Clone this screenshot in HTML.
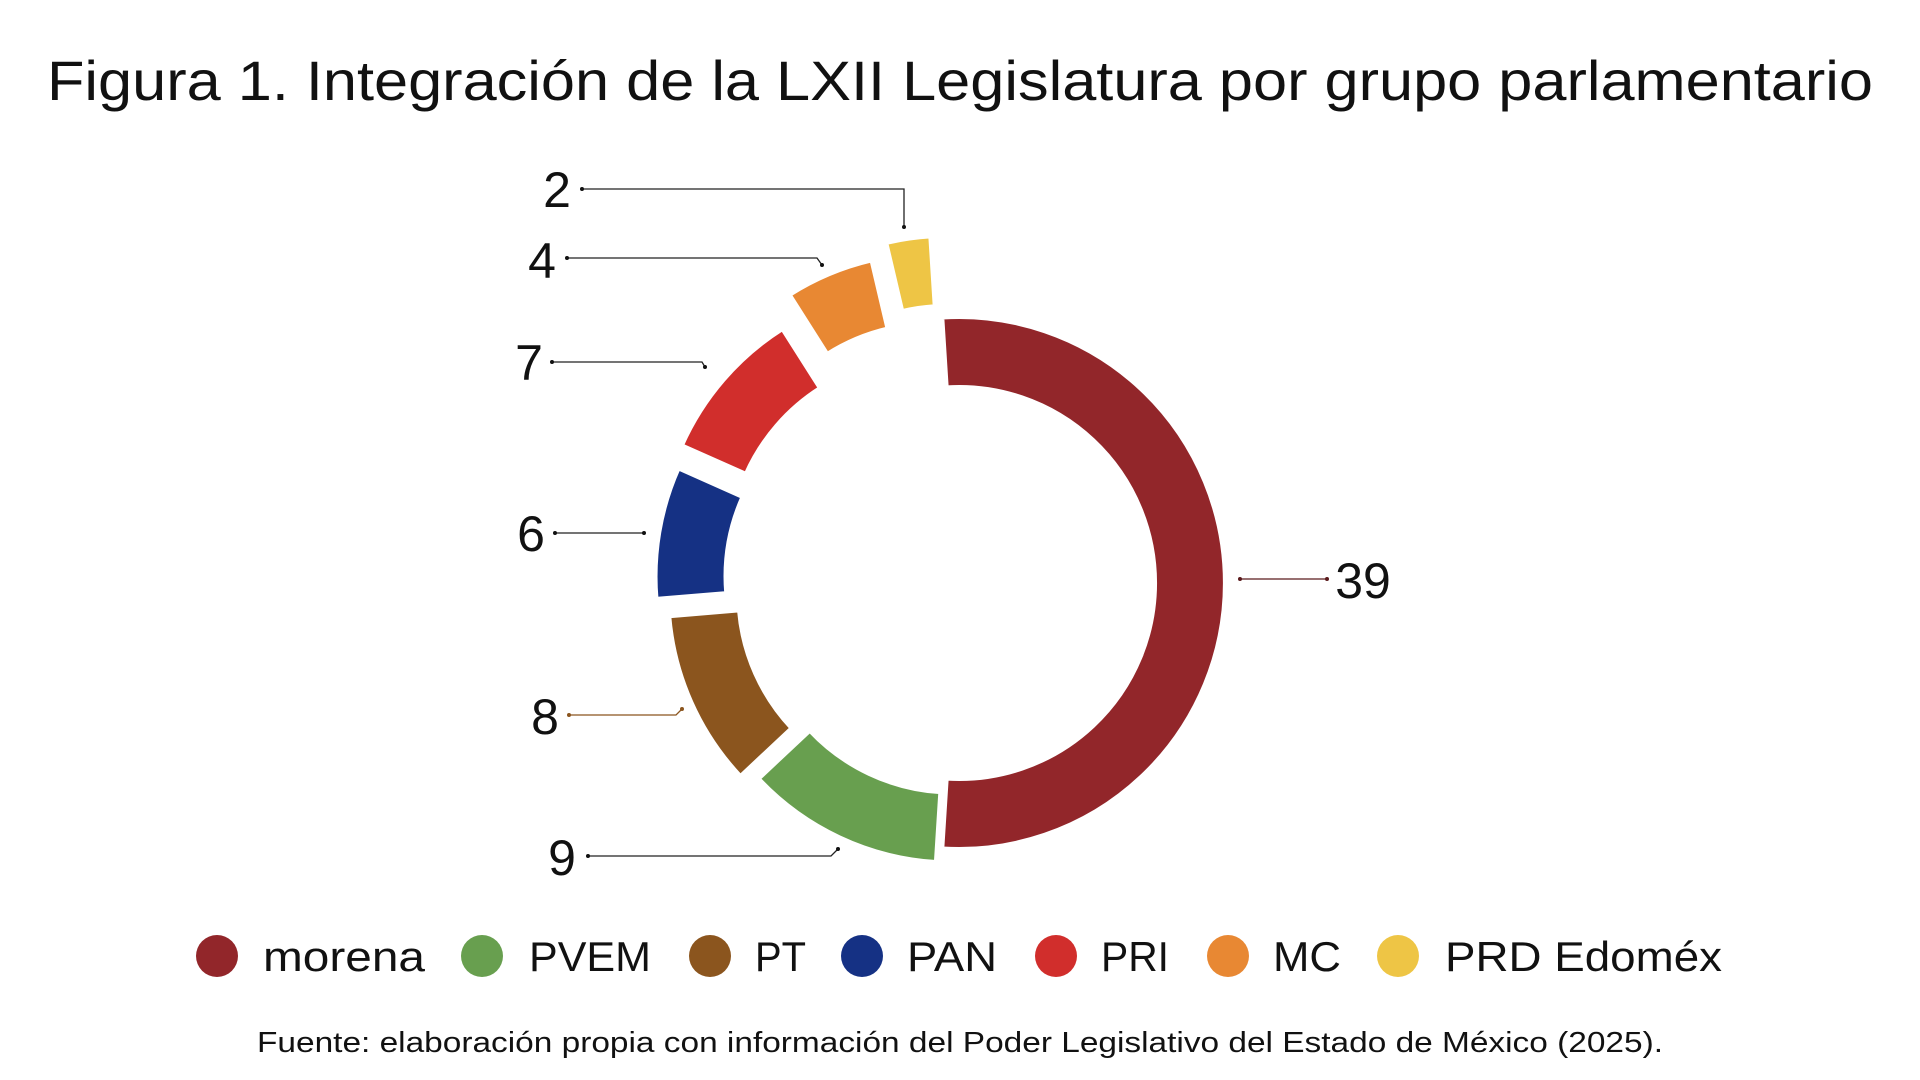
<!DOCTYPE html>
<html><head><meta charset="utf-8"><style>
html,body{margin:0;padding:0;background:#fff;width:1920px;height:1080px;overflow:hidden}
svg{display:block}
text{font-family:"Liberation Sans",sans-serif;fill:#111}
</style></head><body>
<svg id="s" width="1920" height="1080" viewBox="0 0 1920 1080">
<text x="960" y="100" font-size="56" text-anchor="middle" textLength="1826" lengthAdjust="spacingAndGlyphs">Figura 1. Integración de la LXII Legislatura por grupo parlamentario</text>
<g id="pie"></g>
<g fill="none" stroke-width="1.3">
<polyline points="582,189 904,189 904,227" stroke="#222"/>
<polyline points="567,258 817,258 822,265" stroke="#222"/>
<polyline points="552,362 702,362 705,367" stroke="#222"/>
<polyline points="555,533 644,533" stroke="#222"/>
<polyline points="569,715 676,715 682,709" stroke="#8b551e"/>
<polyline points="588,856 831,856 838,849" stroke="#222"/>
<polyline points="1240,579 1327,579" stroke="#5a1a1c"/>
</g>
<g fill="#111">
<circle cx="582" cy="189" r="2"/><circle cx="904" cy="227" r="2"/>
<circle cx="567" cy="258" r="2"/><circle cx="822" cy="265" r="2"/>
<circle cx="552" cy="362" r="2"/><circle cx="705" cy="367" r="2"/>
<circle cx="555" cy="533" r="2"/><circle cx="644" cy="533" r="2"/>
<circle cx="569" cy="715" r="2" fill="#8b551e"/><circle cx="682" cy="709" r="2" fill="#8b551e"/>
<circle cx="588" cy="856" r="2"/><circle cx="838" cy="849" r="2"/>
<circle cx="1240" cy="579" r="2" fill="#5a1a1c"/><circle cx="1327" cy="579" r="2" fill="#5a1a1c"/>
</g>
<g font-size="50" text-anchor="middle">
<text x="557" y="207">2</text>
<text x="542" y="278">4</text>
<text x="529" y="380">7</text>
<text x="531" y="551">6</text>
<text x="545" y="734">8</text>
<text x="562" y="875">9</text>
<text x="1363" y="598">39</text>
</g>
<g>
<circle cx="217" cy="956" r="21" fill="#92262a"/>
<circle cx="482" cy="956" r="21" fill="#689f4f"/>
<circle cx="710" cy="956" r="21" fill="#8b551e"/>
<circle cx="862" cy="956" r="21" fill="#153184"/>
<circle cx="1056" cy="956" r="21" fill="#d12e2c"/>
<circle cx="1228" cy="956" r="21" fill="#e88833"/>
<circle cx="1398" cy="956" r="21" fill="#eec545"/>
</g>
<g font-size="42">
<text x="263" y="971" textLength="162" lengthAdjust="spacingAndGlyphs">morena</text>
<text x="529" y="971" textLength="122" lengthAdjust="spacingAndGlyphs">PVEM</text>
<text x="755" y="971" textLength="51" lengthAdjust="spacingAndGlyphs">PT</text>
<text x="907" y="971" textLength="90" lengthAdjust="spacingAndGlyphs">PAN</text>
<text x="1101" y="971" textLength="68" lengthAdjust="spacingAndGlyphs">PRI</text>
<text x="1273" y="971" textLength="68" lengthAdjust="spacingAndGlyphs">MC</text>
<text x="1445" y="971" textLength="277" lengthAdjust="spacingAndGlyphs">PRD Edoméx</text>
</g>
<text x="257" y="1052" font-size="29" textLength="1406" lengthAdjust="spacingAndGlyphs">Fuente: elaboración propia con información del Poder Legislativo del Estado de México (2025).</text>
</svg>
<script>
var cx=959,cy=583,R=266,r=196;
var d=[[39,"#92262a",0],[9,"#689f4f",15],[8,"#8b551e",27],[6,"#153184",38],[7,"#d12e2c",45],[4,"#e88833",69],[2,"#eec545",82]];
var a=-3.6,g=document.getElementById("pie"),h="";
function P(x,y,rad,t){t=t*Math.PI/180;return (x+rad*Math.sin(t)).toFixed(2)+","+(y-rad*Math.cos(t)).toFixed(2);}
d.forEach(function(s){
 var span=s[0]/75*360,b=a+span,m=(a+b)/2*Math.PI/180;
 var x=cx+s[2]*Math.sin(m),y=cy-s[2]*Math.cos(m),l=span>180?1:0;
 h+='<path fill="'+s[1]+'" stroke="#fff" stroke-width="4" d="M'+P(x,y,R,a)+' A'+R+','+R+' 0 '+l+' 1 '+P(x,y,R,b)+' L'+P(x,y,r,b)+' A'+r+','+r+' 0 '+l+' 0 '+P(x,y,r,a)+' Z"/>';
 a=b;
});
g.innerHTML=h;
</script>
</body></html>
